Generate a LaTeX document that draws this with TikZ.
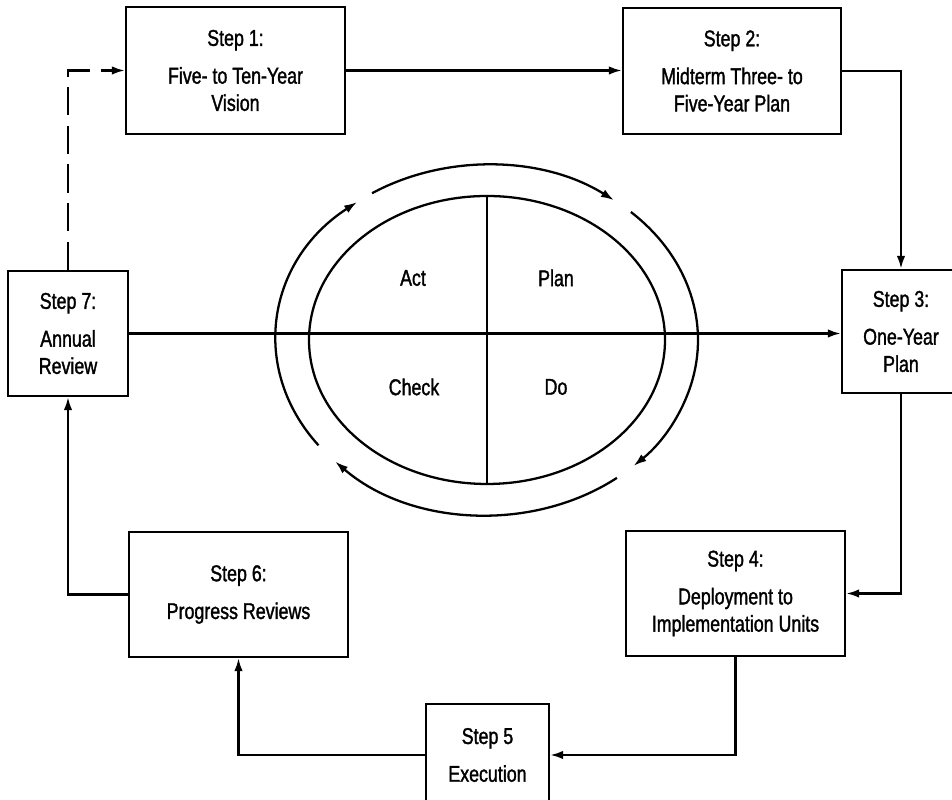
\documentclass[tikz,border=0pt]{standalone}
\usepackage{fontspec}
\setmainfont[FakeStretch=0.78, FakeBold=1.4]{Liberation Sans}
\usepackage{tikz}
\usetikzlibrary{arrows.meta, shapes.geometric}

\begin{document}
\begin{tikzpicture}[>={Latex[length=2.6mm,width=1.7mm]}, line width=1.3pt,
    stepbox/.style={draw, align=center, inner sep=0pt,
      font=\fontsize{13}{15.5}\selectfont},
    flow/.style={->}]
  \useasboundingbox (0,0) rectangle (19.04,16);
  % the seven steps
  \node[stepbox, minimum width=4.38cm, minimum height=2.54cm] (s1) at (4.71,14.59)
        {Step 1:\\[6pt]Five- to Ten-Year\\Vision};
  \node[stepbox, minimum width=4.36cm, minimum height=2.52cm] (s2) at (14.64,14.58)
        {Step 2:\\[6pt]Midterm Three- to\\Five-Year Plan};
  \node[stepbox, minimum width=2.36cm, minimum height=2.46cm] (s3) at (18.02,9.37)
        {Step 3:\\[6pt]One-Year\\Plan};
  \node[stepbox, minimum width=4.38cm, minimum height=2.5cm] (s4) at (14.71,4.13)
        {Step 4:\\[6pt]Deployment to\\Implementation Units};
  \node[stepbox, minimum width=2.46cm, minimum height=2.04cm] (s5) at (9.75,0.9)
        {Step 5\\[6pt]Execution};
  \node[stepbox, minimum width=4.38cm, minimum height=2.5cm] (s6) at (4.77,4.11)
        {Step 6:\\[6pt]Progress Reviews};
  \node[stepbox, minimum width=2.4cm, minimum height=2.5cm] (s7) at (1.36,9.33)
        {Step 7:\\[6pt]Annual\\Review};
  % PDCA wheel
  \node[draw, ellipse, minimum width=7.12cm, minimum height=5.76cm, inner sep=0pt] (pdca) at (9.74,9.2) {};
  \draw (pdca.north) -- (pdca.south);
  \foreach \a/\b in {123/53, 47/-46, -52/-136, 217/128}
    \draw[flow] ([shift={(\a:4.22 and 3.5)}]pdca.center) arc[start angle=\a, end angle=\b, x radius=4.22, y radius=3.5];
  \node[font=\fontsize{13}{15.5}\selectfont] (act) at (8.26,10.44) {Act};
  \node[font=\fontsize{13}{15.5}\selectfont] (plan) at (11.12,10.44) {Plan};
  \node[font=\fontsize{13}{15.5}\selectfont] (check) at (8.28,8.26) {Check};
  \node[font=\fontsize{13}{15.5}\selectfont] (do) at (11.12,8.26) {Do};
  % connectors
  \draw[flow] (s1.east) -- (s1.east -| s2.west);
  \draw[flow] (s2.east) -| (s3.north);
  \draw[flow] (s3.south) |- (s4.east);
  \draw[flow] (s4.south) |- (s5.east);
  \draw[flow] (s5.west) -| (s6.south);
  \draw[flow] (s6.west) -| (s7.south);
  \draw[flow, dash pattern=on 16pt off 6pt] (s7.north) |- (s1.west);
  \draw[flow] (s7.east) -- (s7.east -| s3.west);
\end{tikzpicture}
\end{document}
